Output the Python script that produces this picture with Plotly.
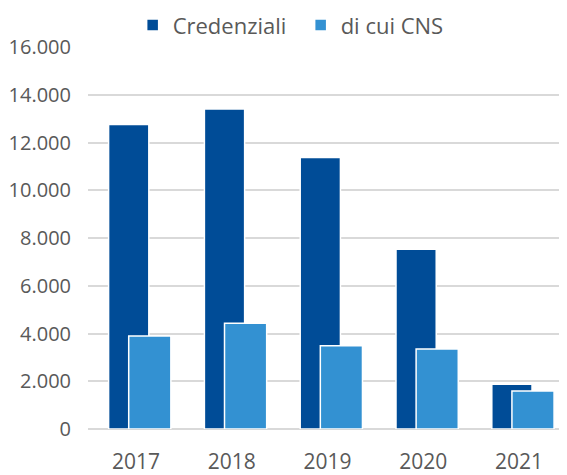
import plotly.graph_objects as go

years = ["2017", "2018", "2019", "2020", "2021"]
credenziali = [12750, 13400, 11370, 7530, 1870]
di_cui_cns = [3900, 4430, 3490, 3350, 1590]
y_ticks = [0, 2000, 4000, 6000, 8000, 10000, 12000, 14000, 16000]

dark = "#004C97"
light = "#3391D2"
gray = "#595959"
font_family = "Open Sans, Noto Sans, sans-serif"

fig = go.Figure()
fig.add_trace(go.Bar(
    x=years, y=credenziali, name="Credenziali",
    marker=dict(color=dark, line=dict(color="white", width=1.5)),
    offset=-0.285, width=0.42,
))
fig.add_trace(go.Bar(
    x=years, y=di_cui_cns, name="di cui CNS",
    marker=dict(color=light, line=dict(color="white", width=1.5)),
    offset=-0.075, width=0.44,
))

# page body has an 8px margin, so the figure is sized/placed accordingly
fig.update_layout(
    width=559, height=467,
    barmode="overlay",
    separators=",.",
    paper_bgcolor="white", plot_bgcolor="white",
    margin=dict(l=80, r=0, t=39, b=46, autoexpand=False),
    font=dict(family=font_family, color=gray, size=18),
    showlegend=True,
    legend=dict(
        orientation="h", xref="container", yref="paper",
        x=0.223, xanchor="left", y=1.057, yanchor="middle",
        entrywidth=123, entrywidthmode="pixels",
        font=dict(size=22, color=gray),
        bgcolor="rgba(0,0,0,0)",
    ),
    xaxis=dict(
        type="category", showgrid=False, showline=False, ticks="",
        automargin=False,
        tickfont=dict(size=21, color=gray), ticklabelstandoff=18,
    ),
    yaxis=dict(
        range=[0, 16000], tickvals=y_ticks, tickformat=",",
        automargin=False,
        showgrid=True, gridcolor="#D9D9D9", gridwidth=1.5,
        zeroline=True, zerolinecolor="#D9D9D9", zerolinewidth=1.5,
        showline=False, ticks="", ticklabelstandoff=16,
        tickfont=dict(size=20, color=gray),
    ),
)

fig.write_html("out.html")
